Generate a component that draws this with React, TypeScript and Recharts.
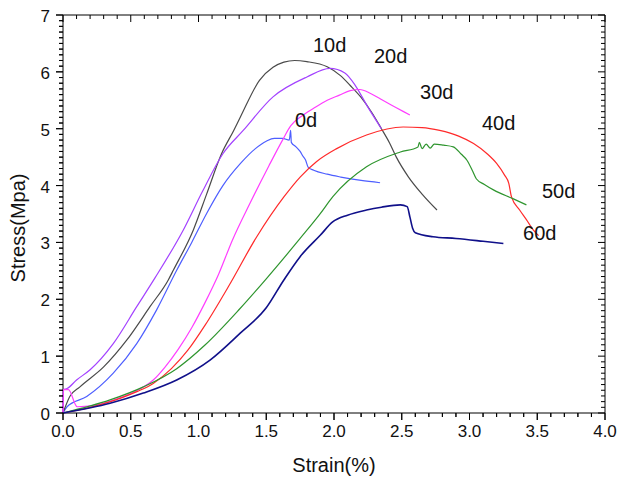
import React from 'react';
import { ComposedChart, Line, Scatter, XAxis, YAxis, ReferenceDot, ReferenceLine } from 'recharts';

type Pt = { x: number; y: number };
const toPts = (rows: number[][]): Pt[] => rows.map(([x, y]) => ({ x, y }));

// strain (%) , stress (MPa)
const day0 = toPts([
  [0, 0], [0.03, 0.11], [0.175, 0.29], [0.371, 0.7], [0.544, 1.22], [0.69, 1.81], [0.839, 2.51],
  [0.95, 3.0], [1.06, 3.51], [1.18, 4.0], [1.31, 4.39], [1.42, 4.65], [1.5, 4.78], [1.56, 4.83],
  [1.62, 4.83], [1.67, 4.8], [1.68, 4.97], [1.685, 4.76], [1.72, 4.68], [1.75, 4.6], [1.77, 4.52],
  [1.79, 4.45], [1.81, 4.32], [1.85, 4.27], [1.95, 4.2], [2.05, 4.15], [2.2, 4.09], [2.34, 4.05],
]);

const day10 = toPts([
  [0, 0], [0.05, 0.29], [0.125, 0.46], [0.3, 0.81], [0.47, 1.28], [0.642, 1.87], [0.777, 2.34],
  [0.814, 2.51], [0.962, 3.22], [1.06, 3.85], [1.17, 4.56], [1.26, 4.97], [1.31, 5.21], [1.45, 5.85],
  [1.55, 6.08], [1.63, 6.17], [1.71, 6.2], [1.8, 6.18], [1.95, 6.09], [2.05, 5.93], [2.12, 5.76],
  [2.2, 5.55], [2.28, 5.28], [2.35, 5.0], [2.41, 4.75], [2.46, 4.5], [2.55, 4.15], [2.65, 3.85],
  [2.76, 3.57],
]);

const day20 = toPts([
  [0, 0], [0.002, 0.41], [0.03, 0.43], [0.1, 0.58], [0.2, 0.76], [0.371, 1.22], [0.544, 1.87],
  [0.68, 2.38], [0.888, 3.22], [1.03, 3.9], [1.18, 4.56], [1.33, 4.97], [1.55, 5.56], [1.8, 5.91],
  [1.97, 6.06], [2.08, 5.98], [2.16, 5.75], [2.25, 5.38], [2.35, 5.0],
]);

const day30 = toPts([
  [0, 0], [0.002, 0.41], [0.04, 0.41], [0.105, 0.11], [0.22, 0.13], [0.4, 0.25], [0.55, 0.4],
  [0.666, 0.58], [0.75, 0.8], [0.85, 1.12], [0.95, 1.5], [1.05, 1.95], [1.15, 2.45], [1.25, 3.04],
  [1.38, 3.69], [1.52, 4.35], [1.62, 4.8], [1.68, 5.05], [1.76, 5.22], [1.85, 5.36], [1.95, 5.5],
  [2.04, 5.59], [2.12, 5.67], [2.19, 5.69], [2.27, 5.62], [2.36, 5.5], [2.46, 5.37], [2.56, 5.24],
]);

const day40 = toPts([
  [0, 0], [0.2, 0.1], [0.4, 0.24], [0.55, 0.38], [0.666, 0.52], [0.8, 0.78], [0.92, 1.1],
  [1.05, 1.55], [1.22, 2.22], [1.43, 3.1], [1.63, 3.8], [1.75, 4.15], [1.87, 4.42], [2.02, 4.65],
  [2.24, 4.89], [2.51, 5.03], [2.65, 5.02], [2.78, 4.97], [2.92, 4.87], [3.03, 4.74], [3.13, 4.56],
  [3.2, 4.39], [3.26, 4.18], [3.29, 4.04], [3.31, 3.8], [3.37, 3.57], [3.42, 3.4], [3.47, 3.22],
  [3.51, 3.12],
]);

const day50 = toPts([
  [0, 0], [0.347, 0.23], [0.593, 0.46], [0.839, 0.78], [1.05, 1.2], [1.3, 1.82], [1.5, 2.36],
  [1.75, 3.07], [1.9, 3.51], [1.99, 3.8], [2.24, 4.33], [2.49, 4.59], [2.62, 4.68], [2.63, 4.76],
  [2.65, 4.65], [2.68, 4.73], [2.71, 4.66], [2.74, 4.73], [2.81, 4.71], [2.88, 4.68], [2.94, 4.55],
  [2.98, 4.45], [3.02, 4.27], [3.05, 4.12], [3.11, 4.02], [3.18, 3.92], [3.32, 3.77], [3.42, 3.66],
]);

const day60 = toPts([
  [0, 0], [0.347, 0.17], [0.593, 0.35], [0.839, 0.58], [1.085, 0.93], [1.306, 1.4], [1.5, 1.85],
  [1.63, 2.34], [1.75, 2.75], [1.9, 3.13], [1.99, 3.36], [2.1, 3.48], [2.24, 3.57], [2.35, 3.62],
  [2.49, 3.66], [2.54, 3.63], [2.56, 3.45], [2.58, 3.25], [2.6, 3.17], [2.73, 3.1], [2.9, 3.07],
  [3.1, 3.02], [3.25, 2.98],
]);

const seriesNames = ['0d', '10d', '20d', '30d', '40d', '50d', '60d'];
const seriesData = [day0, day10, day20, day30, day40, day50, day60];
const seriesColors = ['#4d5eff', '#4a4a4a', '#a342ff', '#ff3dff', '#ff2a2a', '#2e952e', '#10108a'];

// where each curve's name sits (left edge / baseline, in data units)
const labelX = [1.712, 1.845, 2.295, 2.635, 3.092, 3.535, 3.395];
const labelY = [5.03, 6.35, 6.155, 5.522, 4.977, 3.781, 3.043];

const xTickLabels = [0, 0.5, 1, 1.5, 2, 2.5, 3, 3.5, 4];
const yTickLabels = [0, 1, 2, 3, 4, 5, 6, 7];
const X_MAX = 4;
const Y_MAX = 7;

// every 0.1 gets a tick mark, the labelled ones are longer
const xTicks = Array.from({ length: 41 }, (_, i) => i / 10);
const yTicks = Array.from({ length: 71 }, (_, i) => i / 10);
const isMajor = (v: number, list: number[]) => list.some((t) => Math.abs(t - v) < 1e-6);

// anchor points for the outward tick stubs on the bottom and left frame
const bottomTickPts = xTicks.map((v) => ({ x: v, y: 0 }));
const leftTickPts = yTicks.map((v) => ({ x: 0, y: v }));

const FONT = '"Liberation Sans", Arial, sans-serif';
const CHART_W = 619;
const CHART_H = 481;
const FRAME = { left: 63, right: 605, top: 15, bottom: 413 };
const MAJOR = 7;
const MINOR = 4;

const bottomTick = ({ x, y, payload }: any) => (
  <text x={x} y={y + 24} textAnchor="middle" fontSize={17} fontFamily={FONT} fill="#111">
    {payload.value.toFixed(1)}
  </text>
);

const leftTick = ({ x, y, payload }: any) => (
  <text x={x - 13} y={y + 7} textAnchor="end" fontSize={17} fontFamily={FONT} fill="#111">
    {payload.value}
  </text>
);

// axis title for the strain axis; also hangs the outward tick marks off the axis box
const XTitle = (props: any) => {
  const vb = props.viewBox || {
    x: FRAME.left,
    y: FRAME.bottom,
    width: FRAME.right - FRAME.left,
    height: CHART_H - FRAME.bottom,
  };
  const d = xTicks
    .map((v) => {
      const px = vb.x + (v / X_MAX) * vb.width;
      const len = isMajor(v, xTickLabels) ? MAJOR : MINOR;
      return `M${px},${vb.y}V${vb.y + len}`;
    })
    .join('');
  return (
    <g>
      <path d={d} stroke="#000" strokeWidth={1} fill="none" />
      <text x={334} y={472} textAnchor="middle" fontSize={20} fontFamily={FONT} fill="#111">
        Strain(%)
      </text>
    </g>
  );
};

const YTitle = (props: any) => {
  const vb = props.viewBox || {
    x: 0,
    y: FRAME.top,
    width: FRAME.left,
    height: FRAME.bottom - FRAME.top,
  };
  const right = vb.x + vb.width;
  const d = yTicks
    .map((v) => {
      const py = vb.y + vb.height - (v / Y_MAX) * vb.height;
      const len = isMajor(v, yTickLabels) ? MAJOR : MINOR;
      return `M${right - len},${py}H${right}`;
    })
    .join('');
  return (
    <g>
      <path d={d} stroke="#000" strokeWidth={1} fill="none" />
      <text
        x={25}
        y={228}
        transform="rotate(-90 25 228)"
        textAnchor="middle"
        fontSize={20}
        fontFamily={FONT}
        fill="#111"
      >
        Stress(Mpa)
      </text>
    </g>
  );
};

// inward stub from the top edge at each strain tick
const topStub = (len: number) => (p: any) => {
  const top = Math.min(p.y1, p.y2);
  return <line x1={p.x1} x2={p.x1} y1={top} y2={top + len} stroke="#000" strokeWidth={1} />;
};

// inward stub from the right edge at each stress tick
const rightStub = (len: number) => (p: any) => {
  const right = Math.max(p.x1, p.x2);
  return <line x1={right - len} x2={right} y1={p.y1} y2={p.y1} stroke="#000" strokeWidth={1} />;
};

const downStub = (p: any) => {
  const len = isMajor(p.payload.x, xTickLabels) ? MAJOR : MINOR;
  return <line x1={p.cx} x2={p.cx} y1={p.cy} y2={p.cy + len} stroke="#000" strokeWidth={1} />;
};

const leftStub = (p: any) => {
  const len = isMajor(p.payload.y, yTickLabels) ? MAJOR : MINOR;
  return <line x1={p.cx - len} x2={p.cx} y1={p.cy} y2={p.cy} stroke="#000" strokeWidth={1} />;
};

export default function App() {
  return (
    <div style={{ position: 'absolute', left: 0, top: 0, width: CHART_W, height: CHART_H, background: '#fff' }}>
      <ComposedChart
        width={CHART_W}
        height={CHART_H}
        margin={{ top: FRAME.top, right: CHART_W - FRAME.right, bottom: 0, left: 0 }}
      >
        <XAxis
          dataKey="x"
          type="number"
          domain={[0, X_MAX]}
          ticks={xTickLabels}
          interval={0}
          height={CHART_H - FRAME.bottom}
          tickSize={0}
          tickMargin={0}
          tickLine={false}
          axisLine={false}
          tick={bottomTick}
          label={<XTitle />}
        />
        <YAxis
          type="number"
          domain={[0, Y_MAX]}
          ticks={yTickLabels}
          interval={0}
          width={FRAME.left}
          tickSize={0}
          tickMargin={0}
          tickLine={false}
          axisLine={false}
          tick={leftTick}
          label={<YTitle />}
        />
        <ReferenceLine y={0} stroke="#000" strokeWidth={1} />
        <ReferenceLine y={Y_MAX} stroke="#000" strokeWidth={1} />
        <ReferenceLine x={0} stroke="#000" strokeWidth={1} />
        <ReferenceLine x={X_MAX} stroke="#000" strokeWidth={1} />
        {xTicks.map((v) => (
          <ReferenceLine key={`xt${v}`} x={v} shape={topStub(isMajor(v, xTickLabels) ? MAJOR : MINOR)} />
        ))}
        {yTicks.map((v) => (
          <ReferenceLine key={`yt${v}`} y={v} shape={rightStub(isMajor(v, yTickLabels) ? MAJOR : MINOR)} />
        ))}
        <Scatter data={bottomTickPts} dataKey="y" shape={downStub} legendType="none" isAnimationActive={false} />
        <Scatter data={leftTickPts} dataKey="y" shape={leftStub} legendType="none" isAnimationActive={false} />
        {seriesData.map((data, i) => (
          <Line
            key={seriesNames[i]}
            data={data}
            dataKey="y"
            name={seriesNames[i]}
            type="monotone"
            stroke={seriesColors[i]}
            strokeWidth={i === 6 ? 1.6 : 1.2}
            dot={false}
            activeDot={false}
            isAnimationActive={false}
          />
        ))}
        {seriesNames.map((name, i) => (
          <ReferenceDot
            key={`lbl-${name}`}
            x={labelX[i]}
            y={labelY[i]}
            r={0}
            shape={(p: any) => (
              <text x={p.cx} y={p.cy} fontSize={20} fontFamily={FONT} fill="#111">
                {name}
              </text>
            )}
          />
        ))}
      </ComposedChart>
    </div>
  );
}
